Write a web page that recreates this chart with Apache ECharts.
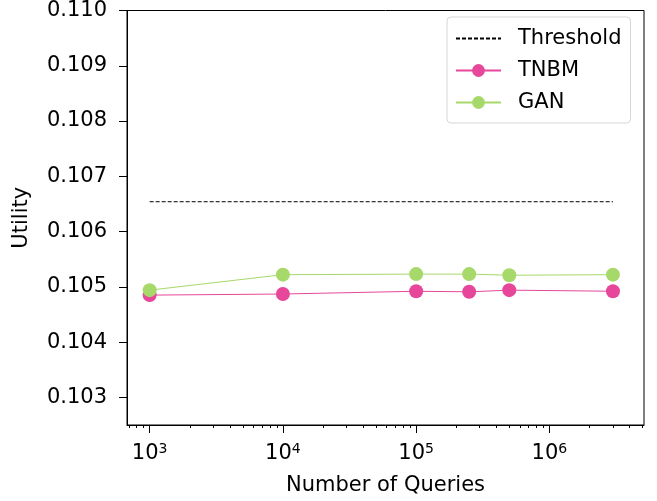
<!DOCTYPE html>
<html>
<head>
<meta charset="utf-8">
<script src="https://cdn.jsdelivr.net/npm/echarts@6/dist/echarts.min.js"></script>
<style>
  html, body { margin: 0; padding: 0; background: #fff; }
  #chart { width: 657px; height: 501px; }
</style>
</head>
<body>
<div id="chart"></div>
<script>
// Query budgets on the log-scaled x axis
const queries = [1000, 10000, 100000, 250000, 500000, 3000000];
// Utility per method
const tnbm = [0.10485, 0.10487, 0.10492, 0.10491, 0.10494, 0.10492];
const gan  = [0.10494, 0.10522, 0.10523, 0.10523, 0.10521, 0.10522];
// Reference utility level
const threshold = 0.10654;
const thresholdSpan = [1000, 3000000];

// Tick positions
const xMajorTicks = [1000, 10000, 100000, 1000000];
const xMinorTicks = [700, 800, 900,
  2000, 3000, 4000, 5000, 6000, 7000, 8000, 9000,
  20000, 30000, 40000, 50000, 60000, 70000, 80000, 90000,
  200000, 300000, 400000, 500000, 600000, 700000, 800000, 900000,
  2000000, 3000000, 4000000, 5000000];
const yTicks = [0.103, 0.104, 0.105, 0.106, 0.107, 0.108, 0.109, 0.110];

const FONT = 'DejaVu Sans';
const FS = 21;
const xMin = 676, xMax = 5130000;

const zip = (xs, ys) => xs.map((x, i) => [x, ys[i]]);

const chart = echarts.init(document.getElementById('chart'), null, { renderer: 'canvas' });

chart.setOption({
  animation: false,
  backgroundColor: '#fff',
  textStyle: { fontFamily: FONT },
  grid: {
    left: 127, right: 13, top: 9, bottom: 76,
    show: true, borderColor: '#000', borderWidth: 1, backgroundColor: 'transparent'
  },
  legend: {
    left: 447, top: 17,
    orient: 'vertical',
    padding: [11, 9, 10, 8],
    itemWidth: 45, itemHeight: 16, itemGap: 11,
    backgroundColor: '#fff',
    borderColor: '#d6d6d6', borderWidth: 1, borderRadius: 4,
    textStyle: { fontFamily: FONT, fontSize: FS, color: '#000', padding: [0, 0, 0, 12] },
    data: [
      { name: 'Threshold', itemStyle: { opacity: 0 } },
      'TNBM',
      'GAN'
    ]
  },
  xAxis: [{
    type: 'log', logBase: 10, min: xMin, max: xMax,
    name: 'Number of Queries', nameLocation: 'middle', nameGap: 50,
    nameTextStyle: { fontFamily: FONT, fontSize: FS, color: '#000' },
    axisLine: { show: true, lineStyle: { color: '#000', width: 1 } },
    axisTick: { show: true, customValues: xMajorTicks, length: 8, lineStyle: { color: '#000', width: 1 } },
    axisLabel: {
      customValues: xMajorTicks, margin: 17,
      formatter: v => '{b|10}{s|' + Math.round(Math.log10(v)) + '}',
      rich: {
        b: { fontFamily: FONT, fontSize: FS, color: '#000', lineHeight: 24 },
        s: { fontFamily: FONT, fontSize: 14, color: '#000', verticalAlign: 'top', lineHeight: 16 }
      }
    },
    splitLine: { show: false }, minorTick: { show: false }
  }, {
    type: 'log', logBase: 10, min: xMin, max: xMax, position: 'bottom',
    axisLine: { show: false },
    axisTick: { show: true, customValues: xMinorTicks, length: 3, lineStyle: { color: '#000', width: 1 } },
    axisLabel: { show: false },
    splitLine: { show: false }
  }],
  yAxis: {
    type: 'value', min: 0.1025, max: 0.110,
    name: 'Utility', nameLocation: 'middle', nameGap: 95, nameRotate: 90,
    nameTextStyle: { fontFamily: FONT, fontSize: FS, color: '#000' },
    axisLine: { show: true, lineStyle: { color: '#000', width: 1 } },
    axisTick: { show: true, customValues: yTicks, length: 8, lineStyle: { color: '#000', width: 1 } },
    axisLabel: {
      customValues: yTicks, margin: 20,
      fontFamily: FONT, fontSize: FS, color: '#000',
      formatter: v => v.toFixed(3)
    },
    splitLine: { show: false }
  },
  series: [{
    name: 'Threshold', type: 'line', xAxisIndex: 0,
    data: thresholdSpan.map(x => [x, threshold]),
    symbol: 'none', showSymbol: false,
    lineStyle: { color: '#000', width: 1, type: [4, 2] },
    itemStyle: { color: '#000' },
    z: 2
  }, {
    name: 'TNBM', type: 'line', xAxisIndex: 0,
    data: zip(queries, tnbm),
    symbol: 'circle', symbolSize: 14,
    lineStyle: { color: '#e7479b', width: 1 },
    itemStyle: { color: '#e7479b' },
    z: 3
  }, {
    name: 'GAN', type: 'line', xAxisIndex: 0,
    data: zip(queries, gan),
    symbol: 'circle', symbolSize: 14,
    lineStyle: { color: '#a6d96a', width: 1 },
    itemStyle: { color: '#a6d96a' },
    z: 4
  }]
});
</script>
</body>
</html>
